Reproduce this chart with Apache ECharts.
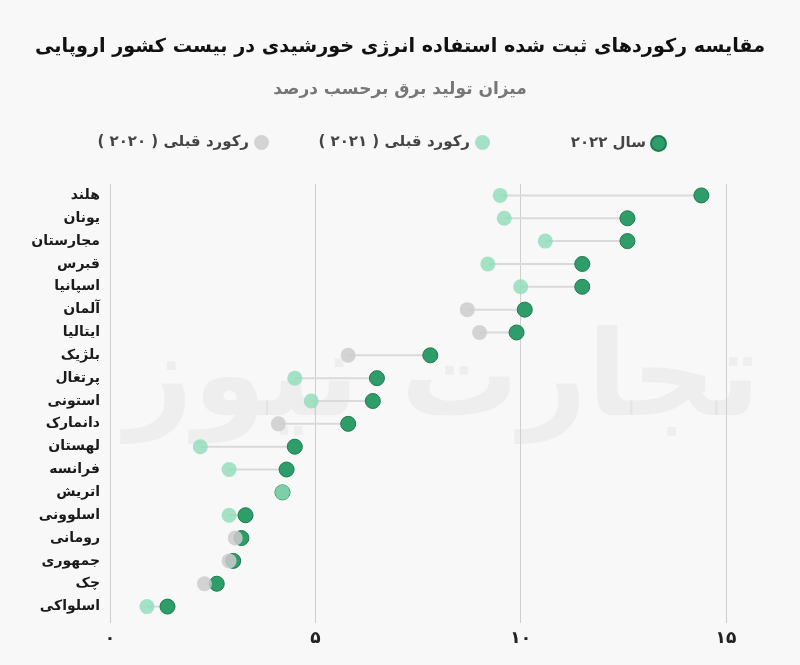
<!DOCTYPE html>
<html>
<head>
<meta charset="utf-8">
<script src="https://cdn.jsdelivr.net/npm/echarts@6/dist/echarts.min.js"></script>
<style>
html,body{margin:0;padding:0;background:#f8f8f8;}
#c{width:800px;height:665px;}
</style>
</head>
<body>
<div id="c"></div>
<script>
const categories = ['هلند','یونان','مجارستان','قبرس','اسپانیا','آلمان','ایتالیا','بلژیک','پرتغال','استونی','دانمارک','لهستان','فرانسه','اتریش','اسلوونی','رومانی','جمهوری','چک','اسلواکی'];
const val2022 = [14.4,12.6,12.6,11.5,11.5,10.1,9.9,7.8,6.5,6.4,5.8,4.5,4.3,4.2,3.3,3.2,3.0,2.6,1.4];
const rec2021 = [9.5,9.6,10.6,9.2,10.0,null,null,null,4.5,4.9,null,2.2,2.9,4.2,2.9,null,null,null,0.9];
const rec2020 = [null,null,null,null,null,8.7,9.0,5.8,null,null,4.1,null,null,null,null,3.05,2.9,2.3,null];
const xTicks = [0,5,10,15];

const titleText = 'مقایسه رکوردهای ثبت شده استفاده انرژی خورشیدی در بیست کشور اروپایی';
const subText = 'میزان تولید برق برحسب درصد';
const name2022 = 'سال ۲۰۲۲';
const name2021 = 'رکورد قبلی ( ۲۰۲۱ )';
const name2020 = 'رکورد قبلی ( ۲۰۲۰ )';

const fa = v => String(v).replace(/\d/g, d => '۰۱۲۳۴۵۶۷۸۹'[d]);
const FONT = '"DejaVu Sans", "Noto Sans", sans-serif';

const linkData = categories.map((c, i) => {
  const prev = rec2021[i] != null ? rec2021[i] : rec2020[i];
  return [prev, val2022[i], i];
});

const legendText = { fontSize: 15, fontWeight: 'bold', color: '#444', fontFamily: FONT };

const chart = echarts.init(document.getElementById('c'));
chart.setOption({
  backgroundColor: '#f8f8f8',
  textStyle: { fontFamily: FONT },
  title: {
    text: titleText,
    subtext: subText,
    left: 'center',
    top: 33,
    itemGap: 24,
    textStyle: { fontSize: 19.2, fontWeight: 'bold', color: '#111', fontFamily: FONT },
    subtextStyle: { fontSize: 17, fontWeight: 'bold', color: '#777', fontFamily: FONT }
  },
  graphic: [{
    type: 'text',
    left: 125,
    top: 325,
    z: -10,
    silent: true,
    style: { text: 'تجارت نیوز', fontSize: 118, fontWeight: 'bold', fill: 'rgba(0,0,0,0.04)', fontFamily: FONT }
  }],
  legend: [
    { data: [name2022], right: 128, top: 130, itemWidth: 15, itemHeight: 15, align: 'right', icon: 'circle', textStyle: legendText },
    { data: [name2021], right: 305, top: 130, itemWidth: 15, itemHeight: 15, align: 'right', icon: 'circle', textStyle: legendText },
    { data: [name2020], right: 526, top: 130, itemWidth: 15, itemHeight: 15, align: 'right', icon: 'circle', textStyle: legendText }
  ],
  grid: { left: 110, right: 74, top: 184, height: 434, containLabel: false },
  xAxis: {
    type: 'value', min: 0, max: 15, interval: 5,
    axisLine: { show: false },
    axisTick: { show: true, length: 5, lineStyle: { color: '#ccc' } },
    axisLabel: { formatter: v => fa(v), fontSize: 17, fontWeight: 'bold', color: '#222', margin: 12 },
    splitLine: { show: true, lineStyle: { color: '#cfcfcf', width: 1 } }
  },
  yAxis: {
    type: 'category', data: categories, inverse: true,
    axisLine: { show: false }, axisTick: { show: false },
    axisLabel: { fontSize: 14, fontWeight: 'bold', color: '#1a1a1a', margin: 10 },
    splitLine: { show: false }
  },
  series: [
    {
      type: 'custom', name: 'link', silent: true, z: 1,
      data: linkData,
      renderItem: (params, api) => {
        const a = api.value(0), b = api.value(1);
        if (a == null || isNaN(a)) return null;
        const p1 = api.coord([a, api.value(2)]);
        const p2 = api.coord([b, api.value(2)]);
        return { type: 'line', shape: { x1: p1[0], y1: p1[1], x2: p2[0], y2: p2[1] },
          style: { stroke: '#dadada', lineWidth: 2 } };
      },
      encode: { x: [0, 1], y: 2 }
    },
    {
      type: 'scatter', name: name2022, z: 3, symbolSize: 15,
      data: val2022.map((v, i) => [v, i]),
      itemStyle: { color: '#2e9d69', borderColor: '#1e7a4f', borderWidth: 1, opacity: 1 }
    },
    {
      type: 'scatter', name: name2021, z: 4, symbolSize: 15,
      data: rec2021.map((v, i) => [v, i]).filter(d => d[0] != null),
      itemStyle: { color: '#8fdcb9', opacity: 0.8 }
    },
    {
      type: 'scatter', name: name2020, z: 4, symbolSize: 15,
      data: rec2020.map((v, i) => [v, i]).filter(d => d[0] != null),
      itemStyle: { color: '#cdcdcd', opacity: 0.85 }
    }
  ]
});
</script>
</body>
</html>
